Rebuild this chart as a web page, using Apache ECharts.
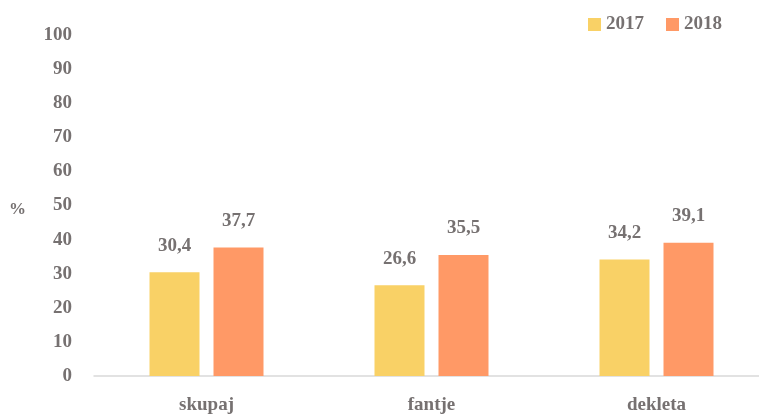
<!DOCTYPE html>
<html><head><meta charset="utf-8">
<script src="https://cdn.jsdelivr.net/npm/echarts@6/dist/echarts.min.js"></script>
<style>html,body{margin:0;padding:0;background:#fff}#c{width:759px;height:417px}</style>
</head><body><div id="c"></div>
<script>
const categories = ['skupaj', 'fantje', 'dekleta'];
const seriesNames = ['2017', '2018'];
const values2017 = [30.4, 26.6, 34.2];
const values2018 = [37.7, 35.5, 39.1];
const colors = ['#F9D166', '#FF9966'];
const font = '"Liberation Serif", "DejaVu Serif", serif';
const txt = '#767171';
const fmt = p => String(p.value).replace('.', ',');
const chart = echarts.init(document.getElementById('c'));
chart.setOption({
  animation: false,
  textStyle: {fontFamily: font},
  legend: {
    top: 10, right: 32, itemWidth: 13, itemHeight: 13, itemGap: 22, itemTextGap: 7,
    icon: 'rect',
    textStyle: {fontFamily: font, fontWeight: 'bold', fontSize: 19, color: txt},
    data: seriesNames
  },
  grid: {left: 94, width: 675, top: 35, bottom: 41, containLabel: false, outerBoundsMode: 'none'},
  graphic: [{type: 'text', left: 9, top: 201, style: {text: '%', font: 'bold 17px ' + font, fill: txt}}],
  xAxis: {
    type: 'category', data: categories,
    axisLine: {lineStyle: {color: '#D9D9D9', width: 1.5}},
    axisTick: {show: false},
    axisLabel: {fontFamily: font, fontWeight: 'bold', fontSize: 19, color: txt, margin: 20}
  },
  yAxis: {
    type: 'value', min: 0, max: 100, interval: 10,
    splitLine: {show: false},
    axisLine: {show: false},
    axisTick: {show: false},
    axisLabel: {fontFamily: font, fontWeight: 'bold', fontSize: 19, color: txt, margin: 22}
  },
  series: [
    {name: seriesNames[0], type: 'bar', data: values2017, barWidth: 50, barGap: '28%',
     itemStyle: {color: colors[0]},
     label: {show: true, position: 'top', distance: 17, formatter: fmt, fontFamily: font, fontWeight: 'bold', fontSize: 19, color: txt}},
    {name: seriesNames[1], type: 'bar', data: values2018, barWidth: 50,
     itemStyle: {color: colors[1]},
     label: {show: true, position: 'top', distance: 17, formatter: fmt, fontFamily: font, fontWeight: 'bold', fontSize: 19, color: txt}}
  ]
});
</script></body></html>
